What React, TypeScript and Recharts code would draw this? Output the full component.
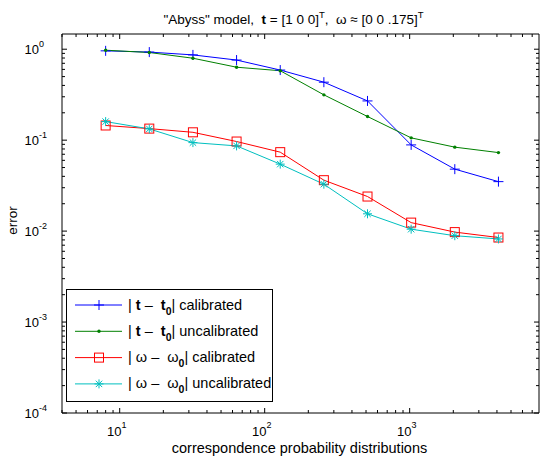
import { Legend, Line, LineChart, XAxis, YAxis } from "recharts";

// number of correspondence probability distributions (x)
const samples = [8, 16, 32, 64, 128, 256, 512, 1024, 2048, 4096];

// error values
const tCalibrated = [0.96, 0.93, 0.866, 0.76, 0.59, 0.434, 0.27, 0.0887, 0.048, 0.035];
const tUncalibrated = [0.975, 0.92, 0.796, 0.634, 0.58, 0.315, 0.182, 0.106, 0.0838, 0.073];
const omegaCalibrated = [0.145, 0.134, 0.122, 0.0966, 0.0738, 0.0363, 0.024, 0.0124, 0.00975, 0.0085];
const omegaUncalibrated = [0.16, 0.133, 0.094, 0.0865, 0.0545, 0.0328, 0.0155, 0.0105, 0.0089, 0.0082];

const xMajor = [1, 10, 100, 1000];
const yMajor = [1e-4, 1e-3, 1e-2, 1e-1, 1];
const X_DOMAIN: [number, number] = [4, 7800];
const Y_DOMAIN: [number, number] = [1e-4, 1.47];

const withMinor = (majors: number[], [lo, hi]: [number, number]) =>
	majors
		.flatMap((m) => [1, 2, 3, 4, 5, 6, 7, 8, 9].map((k) => Number((m * k).toPrecision(3))))
		.filter((v) => v >= lo && v <= hi);

const xTicks = withMinor(xMajor, X_DOMAIN);
const yTicks = withMinor(yMajor, Y_DOMAIN);

const rows = samples.map((n, i) => ({
	n,
	tCal: tCalibrated[i],
	tUncal: tUncalibrated[i],
	wCal: omegaCalibrated[i],
	wUncal: omegaUncalibrated[i],
}));

type MarkerKind = "plus" | "dot" | "square" | "star";

const SERIES: { key: string; color: string; marker: MarkerKind; sym: "t" | "w"; label: string }[] = [
	{ key: "tCal", color: "#0000ff", marker: "plus", sym: "t", label: "calibrated" },
	{ key: "tUncal", color: "#008000", marker: "dot", sym: "t", label: "uncalibrated" },
	{ key: "wCal", color: "#ff0000", marker: "square", sym: "w", label: "calibrated" },
	{ key: "wUncal", color: "#00bfbf", marker: "star", sym: "w", label: "uncalibrated" },
];

const FONT = '"Liberation Sans", Arial, Helvetica, sans-serif';

function Marker({ kind, cx, cy, color }: { kind: MarkerKind; cx: number; cy: number; color: string }) {
	if (kind === "plus")
		return <path d={`M${cx - 5},${cy}H${cx + 5}M${cx},${cy - 5}V${cy + 5}`} stroke={color} strokeWidth={1} fill="none" />;
	if (kind === "dot") return <circle cx={cx} cy={cy} r={1.7} fill={color} />;
	if (kind === "square")
		return <rect x={cx - 4.5} y={cy - 4.5} width={9} height={9} stroke={color} strokeWidth={1} fill="none" />;
	const a = 4.5;
	const d = 3.2;
	return (
		<path
			d={`M${cx - a},${cy}H${cx + a}M${cx},${cy - a}V${cy + a}M${cx - d},${cy - d}L${cx + d},${cy + d}M${cx - d},${cy + d}L${cx + d},${cy - d}`}
			stroke={color}
			strokeWidth={1}
			fill="none"
		/>
	);
}

const isMajor = (v: number) => Math.abs(Math.log10(v) - Math.round(Math.log10(v))) < 1e-6;

function renderTick(props: any, side: "bottom" | "top" | "left" | "right") {
	const { x, y, payload } = props;
	const v = payload.value as number;
	const major = isMajor(v);
	const len = major ? 5 : 3;
	const exp = Math.round(Math.log10(v));
	let line;
	if (side === "bottom") line = <line x1={x} y1={y} x2={x} y2={y - len} />;
	else if (side === "top") line = <line x1={x} y1={y} x2={x} y2={y + len} />;
	else if (side === "left") line = <line x1={x} y1={y} x2={x + len} y2={y} />;
	else line = <line x1={x} y1={y} x2={x - len} y2={y} />;
	return (
		<g>
			<g stroke="#000" strokeWidth={1}>{line}</g>
			{major && side === "bottom" && (
				<text x={x - 3} y={y + 23} textAnchor="middle" fontSize={13} fontFamily={FONT} fill="#000">
					<tspan>10</tspan>
					<tspan dy={-8} fontSize={9}>{exp}</tspan>
				</text>
			)}
			{major && side === "left" && (
				<>
					<text x={x - 23} y={y + 5} textAnchor="end" fontSize={13} fontFamily={FONT} fill="#000">10</text>
					<text x={x - 23} y={y - 2} textAnchor="start" fontSize={9} fontFamily={FONT} fill="#000">{exp}</text>
				</>
			)}
		</g>
	);
}

function EntryText({ sym, label, x, y }: { sym: "t" | "w"; label: string; x: number; y: number }) {
	const symbol = sym === "t" ? "t" : "ω";
	const weight = sym === "t" ? "bold" : "normal";
	return (
		<text x={x} y={y} fontSize={14.5} fontFamily={FONT} fill="#000" style={{ whiteSpace: "pre" }}>
			<tspan>| </tspan>
			<tspan fontWeight={weight}>{symbol}</tspan>
			<tspan> –  </tspan>
			<tspan fontWeight={weight}>{symbol}</tspan>
			<tspan dy={5} fontSize={10.5} fontWeight="bold">0</tspan>
			<tspan dy={-5}>| {label}</tspan>
		</text>
	);
}

function LegendBox() {
	return (
		<svg width={207} height={113} style={{ display: "block" }}>
			<rect x={0.5} y={0.5} width={206} height={112} fill="#fff" stroke="#000" strokeWidth={1} />
			{SERIES.map((s, i) => {
				const cy = 16 + i * 26.3;
				return (
					<g key={s.key}>
						<line x1={9} x2={56} y1={cy} y2={cy} stroke={s.color} strokeWidth={1} />
						<Marker kind={s.marker} cx={33} cy={cy} color={s.color} />
						<EntryText sym={s.sym} label={s.label} x={62} y={cy + 4.5} />
					</g>
				);
			})}
		</svg>
	);
}

function Title(props: any) {
	const { viewBox } = props;
	const cx = viewBox.x + viewBox.width / 2 - 7;
	return (
		<text x={cx} y={24} textAnchor="middle" fontSize={13.5} fontFamily={FONT} fill="#000" style={{ whiteSpace: "pre" }}>
			<tspan>"Abyss" model,  </tspan>
			<tspan fontWeight="bold">t</tspan>
			<tspan> = [1 0 0]</tspan>
			<tspan dy={-6} fontSize={9.5}>T</tspan>
			<tspan dy={6}>,  ω ≈ [0 0 .175]</tspan>
			<tspan dy={-6} fontSize={9.5}>T</tspan>
		</text>
	);
}

export default function App() {
	return (
		<div style={{ position: "absolute", left: 0, top: 0, width: 540, height: 462, background: "#fff" }}>
			<LineChart width={540} height={462} data={rows} margin={{ top: 33, right: 0, bottom: 0, left: 0 }}>
				<XAxis
					dataKey="n"
					type="number"
					scale="log"
					domain={X_DOMAIN}
					allowDataOverflow
					ticks={xTicks}
					interval={0}
					height={49}
					tickSize={0}
					tickMargin={0}
					tickLine={false}
					axisLine={{ stroke: "#000", strokeWidth: 1 }}
					tick={(p: any) => renderTick(p, "bottom")}
					label={{
						content: (p: any) => (
							<text
								x={p.viewBox.x + p.viewBox.width / 2 - 1}
								y={453}
								textAnchor="middle"
								fontSize={14.5}
								fontFamily={FONT}
								fill="#000"
							>
								correspondence probability distributions
							</text>
						),
					}}
				/>
				<XAxis
					xAxisId="top"
					orientation="top"
					dataKey="n"
					type="number"
					scale="log"
					domain={X_DOMAIN}
					allowDataOverflow
					ticks={xTicks}
					interval={0}
					height={1}
					tickSize={0}
					tickMargin={0}
					tickLine={false}
					axisLine={{ stroke: "#000", strokeWidth: 1 }}
					tick={(p: any) => renderTick(p, "top")}
					label={{ content: (p: any) => <Title {...p} /> }}
				/>
				<YAxis
					type="number"
					scale="log"
					domain={Y_DOMAIN}
					allowDataOverflow
					ticks={yTicks}
					interval={0}
					width={62}
					tickSize={0}
					tickMargin={0}
					tickLine={false}
					axisLine={{ stroke: "#000", strokeWidth: 1 }}
					tick={(p: any) => renderTick(p, "left")}
					label={{
						content: (p: any) => (
							<text
								x={17}
								y={p.viewBox.y + p.viewBox.height / 2 - 3}
								transform={`rotate(-90 17 ${p.viewBox.y + p.viewBox.height / 2 - 3})`}
								textAnchor="middle"
								fontSize={13.5}
								fontFamily={FONT}
								fill="#000"
							>
								error
							</text>
						),
					}}
				/>
				<YAxis
					yAxisId="right"
					orientation="right"
					type="number"
					scale="log"
					domain={Y_DOMAIN}
					allowDataOverflow
					ticks={yTicks}
					interval={0}
					width={1}
					tickSize={0}
					tickMargin={0}
					tickLine={false}
					axisLine={{ stroke: "#000", strokeWidth: 1 }}
					tick={(p: any) => renderTick(p, "right")}
				/>
				{SERIES.map((s) => (
					<Line
						key={s.key}
						dataKey={s.key}
						type="linear"
						stroke={s.color}
						strokeWidth={1}
						dot={(p: any) => <Marker key={`${s.key}-${p.index}`} kind={s.marker} cx={p.cx} cy={p.cy} color={s.color} />}
						activeDot={false}
						isAnimationActive={false}
					/>
				))}
				<Legend
					layout="vertical"
					align="center"
					verticalAlign="middle"
					wrapperStyle={{ position: "absolute", left: 66, top: 289, width: 207, height: 113 }}
					content={() => <LegendBox />}
				/>
			</LineChart>
		</div>
	);
}
